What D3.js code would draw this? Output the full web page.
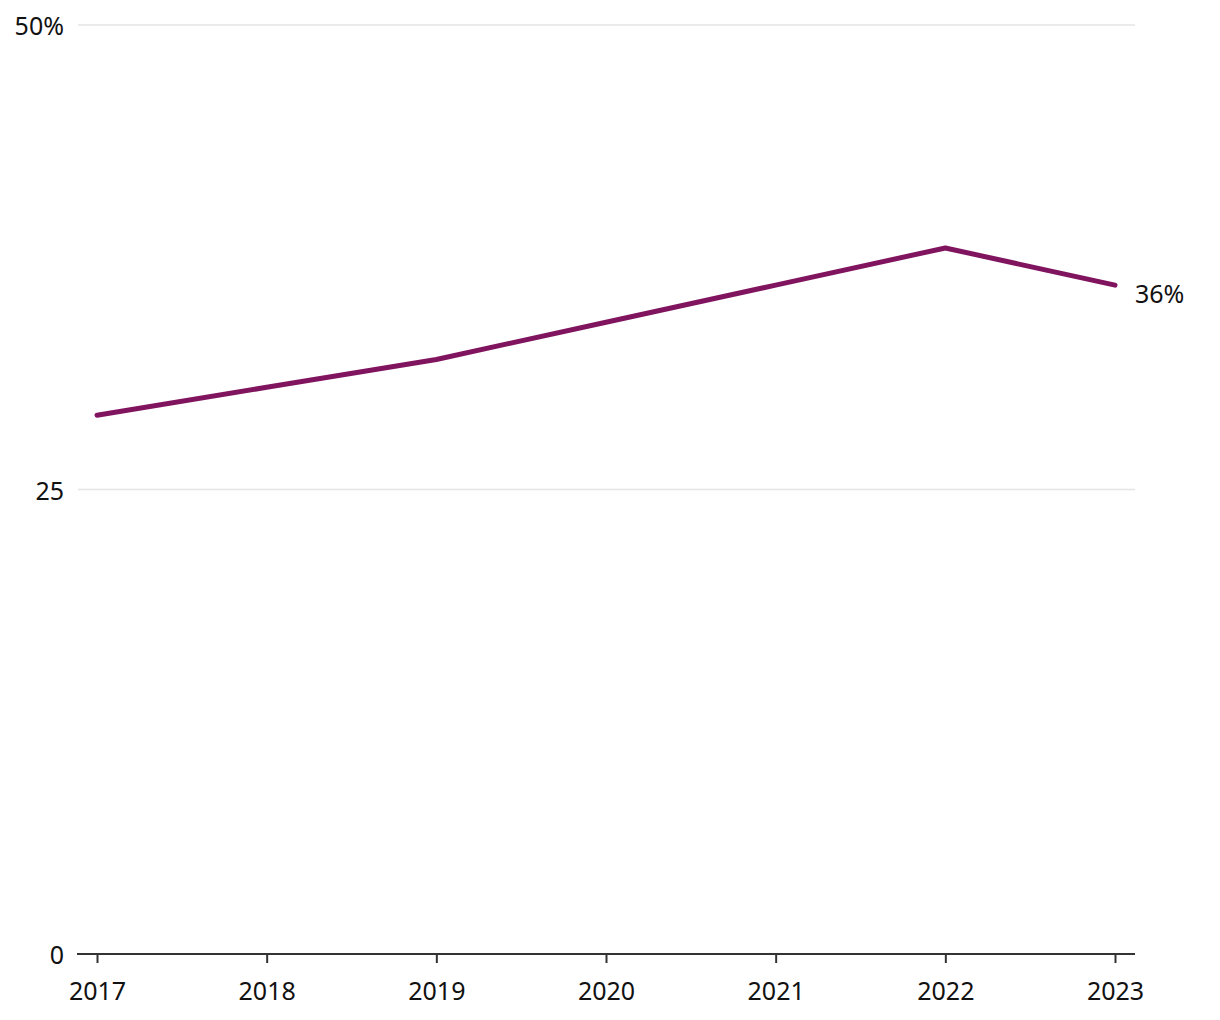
<!DOCTYPE html>
<html>
<head>
<meta charset="utf-8">
<script src="https://cdn.jsdelivr.net/npm/d3@7"></script>
<style>
  body { margin: 0; background: #fff; }
  text { font-family: "Noto Sans", sans-serif; }
</style>
</head>
<body>
<div id="chart"></div>
<script>
// Data
const years = [2017, 2018, 2019, 2020, 2021, 2022, 2023];
const shares = [29, 30.5, 32, 34, 36, 38, 36];
const yTicks = [0, 25, 50];
const yTickLabels = ["0", "25", "50%"];
const endLabel = "36%";

const width = 1220, height = 1020;
const plot = { left: 77, right: 1135, top: 25, bottom: 954 };
const fontSize = "25px";

const svg = d3.select("#chart").append("svg")
    .attr("width", width)
    .attr("height", height);

const x = d3.scalePoint()
    .domain(years)
    .range([97, 1115]);

const y = d3.scaleLinear()
    .domain([0, 50])
    .range([plot.bottom, plot.top]);

// gridlines
svg.selectAll(".grid")
    .data(yTicks.filter(d => d > 0))
  .enter().append("line")
    .attr("class", "grid")
    .attr("x1", plot.left + 1)
    .attr("x2", plot.right)
    .attr("y1", d => y(d))
    .attr("y2", d => y(d))
    .attr("stroke", "#e4e4e4")
    .attr("stroke-width", 1.5);

// y labels
svg.selectAll(".ylab")
    .data(yTicks)
  .enter().append("text")
    .attr("class", "ylab")
    .attr("x", 64)
    .attr("y", d => y(d) + 1)
    .attr("dy", "0.36em")
    .attr("text-anchor", "end")
    .attr("font-size", fontSize)
    .attr("fill", "#111")
    .text((d, i) => yTickLabels[i]);

// x axis
const xAxis = svg.append("g")
    .attr("transform", "translate(0," + plot.bottom + ")")
    .call(d3.axisBottom(x).tickSize(9).tickPadding(19).tickSizeOuter(0));
xAxis.select(".domain")
    .attr("d", "M" + plot.left + ",0H" + plot.right)
    .attr("stroke", "#333")
    .attr("stroke-width", 2);
xAxis.selectAll(".tick line")
    .attr("stroke", "#333")
    .attr("stroke-width", 2);
xAxis.selectAll(".tick text")
    .attr("font-family", "Noto Sans, sans-serif")
    .attr("font-size", fontSize)
    .attr("fill", "#111");

// line
const line = d3.line()
    .x((d, i) => x(years[i]))
    .y(d => y(d));

svg.append("path")
    .datum(shares)
    .attr("fill", "none")
    .attr("stroke", "#80145f")
    .attr("stroke-width", 5)
    .attr("stroke-linecap", "round")
    .attr("stroke-linejoin", "round")
    .attr("d", line);

// end label
svg.append("text")
    .attr("x", x(years[years.length - 1]) + 20)
    .attr("y", y(shares[shares.length - 1]) + 8.5)
    .attr("dy", "0.36em")
    .attr("font-size", fontSize)
    .attr("fill", "#111")
    .text(endLabel);
</script>
</body>
</html>
